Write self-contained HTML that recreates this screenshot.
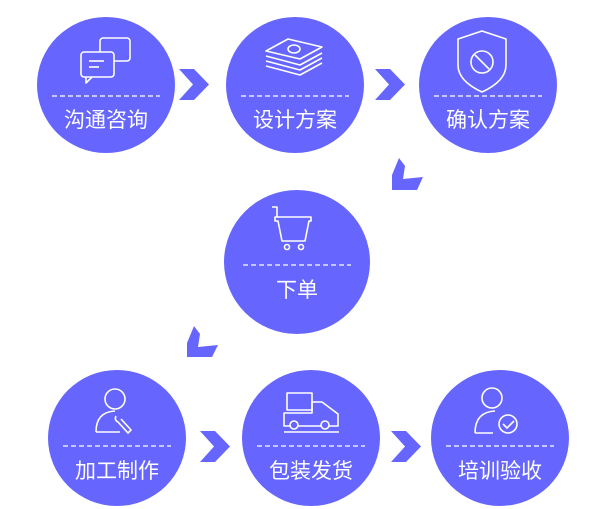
<!DOCTYPE html>
<html><head><meta charset="utf-8"><style>
html,body{margin:0;padding:0;background:#fff;width:606px;height:509px;overflow:hidden}
text{font-family:"Liberation Sans","Noto Sans CJK SC",sans-serif;fill:#fff;font-size:21px}
</style></head><body>
<svg width="606" height="509" viewBox="0 0 606 509" xmlns="http://www.w3.org/2000/svg">
<g fill="#6666ff">
<ellipse cx="106" cy="85" rx="69" ry="68"/>
<ellipse cx="295" cy="85" rx="69" ry="68"/>
<ellipse cx="488" cy="85" rx="69" ry="68"/>
<ellipse cx="297" cy="262" rx="73" ry="72"/>
<ellipse cx="117" cy="438" rx="69" ry="68"/>
<ellipse cx="311" cy="438" rx="69" ry="68"/>
<ellipse cx="500" cy="438" rx="69" ry="68"/>
<polygon points="179,69 194,69 209,84.5 194,100 179,100 193,84.5"/>
<polygon points="375,69 390,69 405,84.5 390,100 375,100 389,84.5"/>
<polygon points="200,431 215,431 230,446.5 215,462 200,462 214,446.5"/>
<polygon points="391,431 406,431 421,446.5 406,462 391,462 405,446.5"/>
<polygon points="399,158 392,175 392,190 417,190 423,177 403,179 405,166"/>
<polygon points="194,326 187,343 187,357 212,357 218,345 198,347 200,334"/>
</g>
<g stroke="#fff" stroke-width="1.2" stroke-dasharray="5,3" fill="none">
<line x1="52" y1="96" x2="160" y2="96"/>
<line x1="241" y1="96" x2="349" y2="96"/>
<line x1="434" y1="96" x2="542" y2="96"/>
<line x1="243" y1="265" x2="351" y2="265"/>
<line x1="63" y1="446" x2="171" y2="446"/>
<line x1="257" y1="446" x2="365" y2="446"/>
<line x1="446" y1="446" x2="554" y2="446"/>
</g>
<g text-anchor="middle">
<text x="106" y="127">沟通咨询</text>
<text x="295" y="127">设计方案</text>
<text x="488" y="127">确认方案</text>
<text x="297" y="297">下单</text>
<text x="117" y="478">加工制作</text>
<text x="311" y="478">包装发货</text>
<text x="500" y="478">培训验收</text>
</g>
<g stroke="#fff" stroke-width="1.6" fill="none" stroke-linejoin="round">
<rect x="100" y="38" width="30" height="23" rx="3"/>
<rect x="81" y="52" width="33" height="25" rx="3" fill="#6666ff"/>
<path d="M86 77 l0 6 l6 -6"/>
<line x1="89" y1="61" x2="104" y2="61"/><line x1="89" y1="67" x2="99" y2="67"/>
<path d="M266 51 l22 -12 l34 8 l-22 12 z"/>
<ellipse cx="294" cy="49" rx="6" ry="4"/>
<path d="M266 56 l34 9 l22 -12"/><path d="M266 61 l34 9 l22 -12"/><path d="M266 66 l34 9 l22 -12"/>
<path d="M482 31 l-24 8 v26 q0 16 24 27 q24 -11 24 -27 v-26 z"/>
<circle cx="482" cy="62" r="11"/><line x1="475" y1="55" x2="489" y2="69"/>
<path d="M272 207 h5 v10"/><path d="M275 217 h36 v4 h-2 l-4 20 h-23 l-4 -20 h-3 z"/>
<circle cx="287" cy="247" r="2.5"/><circle cx="301" cy="247" r="2.5"/>
<circle cx="115" cy="399" r="10"/>
<path d="M96 432 q0 -20 19 -21"/><path d="M96 432 h24"/>
<path d="M121 419 l10 11 l-3 3 l-10 -11 q-4 -2 -2 -6"/>
<!-- truck -->
<rect x="287" y="393" width="25" height="17"/>
<path d="M284 413 h28 v-11 h10 l16 12 v12 h-54 z"/>
<circle cx="294" cy="425" r="4" fill="#6666ff"/><circle cx="325" cy="425" r="4" fill="#6666ff"/>
<line x1="284" y1="432" x2="339" y2="432"/>
<circle cx="492" cy="398" r="10"/>
<path d="M475 433 q0 -21 20 -22"/><path d="M475 433 h18"/>
<circle cx="508" cy="424" r="9"/><path d="M503 424 l4 4 l7 -7"/>
</g>
</svg>
</body></html>
